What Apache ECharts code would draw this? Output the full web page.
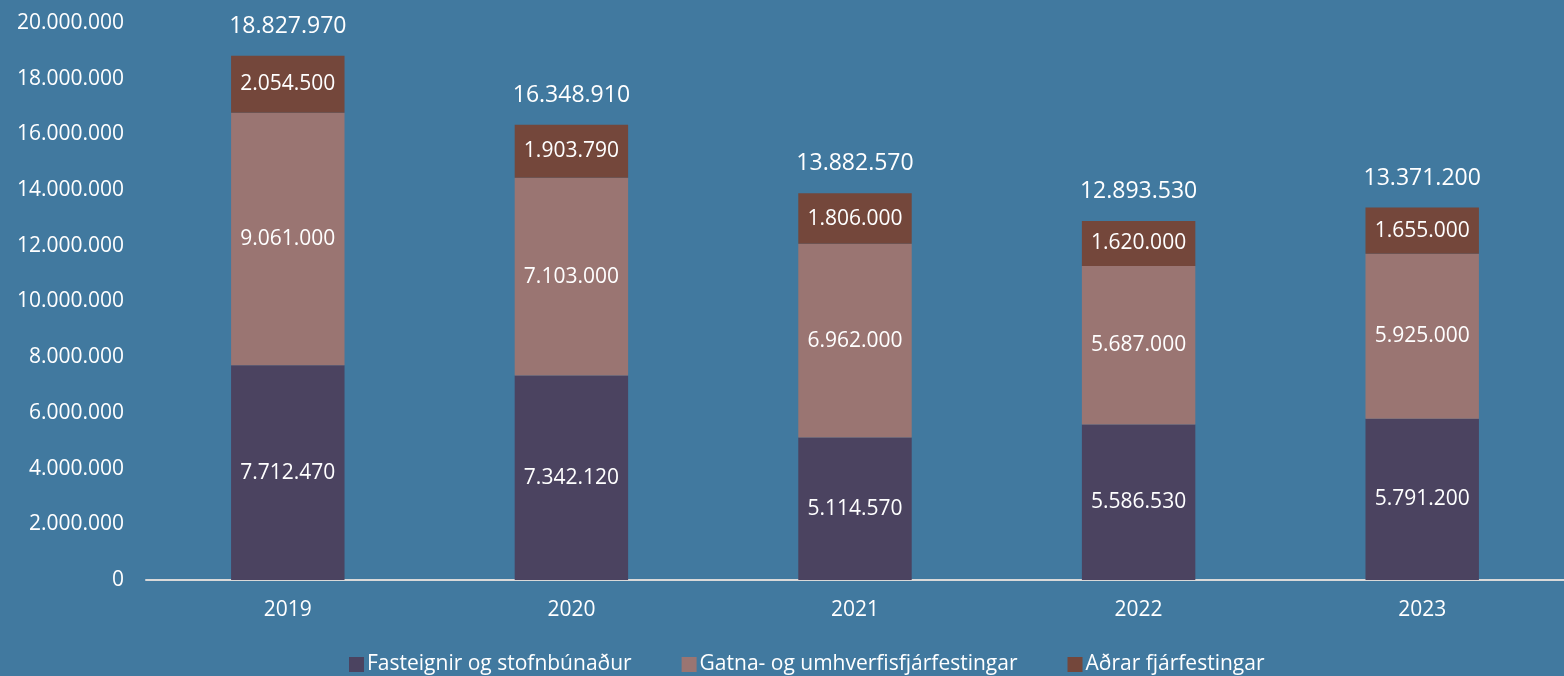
<!DOCTYPE html>
<html><head><meta charset="utf-8">
<script src="https://cdn.jsdelivr.net/npm/echarts@6/dist/echarts.min.js"></script>
<style>html,body{margin:0;padding:0;background:#41799f;}#c{width:1564px;height:676px;}</style>
</head><body><div id="c"></div>
<script>
const categories = ['2019','2020','2021','2022','2023'];
const fasteignir = [7712470, 7342120, 5114570, 5586530, 5791200];
const gatna = [9061000, 7103000, 6962000, 5687000, 5925000];
const adrar = [2054500, 1903790, 1806000, 1620000, 1655000];
const totals = [18827970, 16348910, 13882570, 12893530, 13371200];
const seriesNames = ['Fasteignir og stofnbúnaður', 'Gatna- og umhverfisfjárfestingar', 'Aðrar fjárfestingar'];

function fmt(v){ return String(Math.round(v)).replace(/\B(?=(\d{3})+(?!\d))/g, '.'); }
const font = '"Open Sans", sans-serif';
const chart = echarts.init(document.getElementById('c'));
const segLabel = {show:true, position:'inside', color:'#ffffff', fontSize:21, fontFamily:font, formatter:p=>fmt(p.value)};
chart.setOption({
  backgroundColor:'#41799f',
  animation:false,
  grid:{left:146, top:23, width:1425, bottom:96, containLabel:false},
  legend:{
    bottom:-4, left:344, itemWidth:15, itemHeight:15, itemGap:50, icon:'rect',
    textStyle:{color:'#ffffff', fontSize:21, fontFamily:font, padding:[0,0,0,-2]},
    data:seriesNames
  },
  xAxis:{type:'category', data:categories,
    axisLine:{lineStyle:{color:'#d9d9d9', width:2}}, axisTick:{show:false},
    axisLabel:{color:'#ffffff', fontSize:21, fontFamily:font, margin:20}},
  yAxis:{type:'value', min:0, max:20000000, interval:2000000,
    splitLine:{show:false}, axisLine:{show:false}, axisTick:{show:false},
    axisLabel:{color:'#ffffff', fontSize:21, fontFamily:font, margin:22, formatter:v=>fmt(v)}},
  series:[
    {name:seriesNames[0], type:'bar', stack:'a', barWidth:'40%', data:fasteignir, itemStyle:{color:'#4b4360'}, label:segLabel},
    {name:seriesNames[1], type:'bar', stack:'a', data:gatna, itemStyle:{color:'#9a7572'}, label:segLabel},
    {name:seriesNames[2], type:'bar', stack:'a', data:adrar, itemStyle:{color:'#74473b'}, label:segLabel},
    {name:'total', type:'bar', stack:'a', data:totals.map(()=>0), itemStyle:{color:'transparent'},
      label:{show:true, position:'top', distance:18, color:'#ffffff', fontSize:23, fontFamily:font,
        formatter:p=>fmt(totals[p.dataIndex])}}
  ]
});
</script></body></html>
